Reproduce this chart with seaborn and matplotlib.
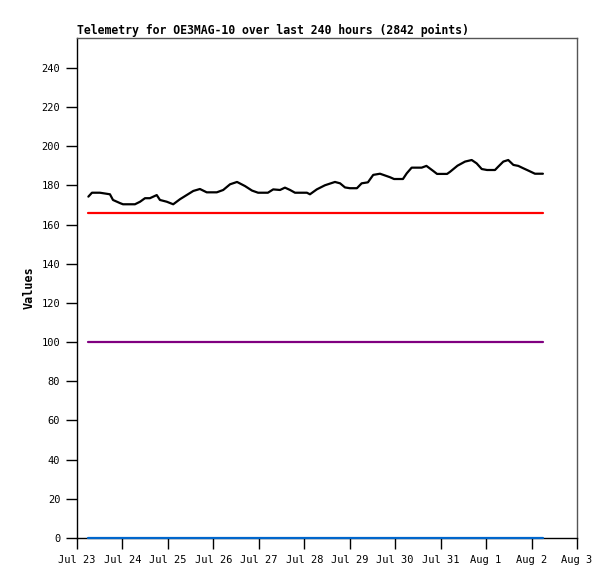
import pandas as pd
import matplotlib
matplotlib.use('Agg')
import matplotlib.pyplot as plt
import matplotlib.dates as mdates
import seaborn as sns

# black series: hours since Jul 23 00:00 and values
hours = [6, 7.9, 12.1, 17.4, 19, 22.7, 24.3, 30.6, 33.3, 35.9, 38.5, 42.1, 43.8,
         47.4, 50.8, 54.4, 57.9, 61.4, 64.9, 68.5, 73.8, 77.2, 80.8, 84.5, 88.7,
         92.4, 95.6, 100.8, 103.6, 107.2, 109.8, 112.5, 115.1, 121.4, 123, 126.6,
         130.9, 136.2, 138.9, 141.5, 144.1, 147.8, 150.3, 153.6, 156.4, 160, 165.3,
         167.4, 172.1, 174.1, 176.7, 182, 184.5, 188.1, 190.1, 195.4, 197, 200.9,
         204.9, 208.4, 211, 213.7, 216.5, 220.7, 222.4, 225.1, 227.7, 230.4, 233,
         235.6, 238.3, 241.8, 246]
values = [174.3, 176.3, 176.3, 175.5, 172.6, 171, 170.4, 170.4, 171.7, 173.5, 173.5,
          175.1, 172.6, 171.7, 170.4, 173, 175.1, 177.2, 178.2, 176.5, 176.5, 177.7,
          180.6, 181.8, 179.7, 177.4, 176.3, 176.3, 178, 177.7, 178.9, 177.7, 176.3,
          176.3, 175.5, 178, 180.1, 181.8, 181.1, 179, 178.6, 178.6, 181.1, 181.6,
          185.4, 186, 184.2, 183.3, 183.3, 186.2, 189.1, 189.1, 190, 187.4, 185.9,
          185.9, 187, 190.1, 192.2, 193, 191.3, 188.4, 187.9, 187.9, 189.6, 192.2,
          193, 190.5, 190, 188.8, 187.6, 186, 186]

level_hours = [6, 246]
red_level = [166, 166]
purple_level = [100, 100]
blue_level = [0, 0]

day_ticks = pd.date_range('2024-07-23', '2024-08-03', freq='D')

base = pd.Timestamp('2024-07-23')
t = base + pd.to_timedelta(hours, unit='h')
tl = base + pd.to_timedelta(level_hours, unit='h')

sns.set_style('white')
plt.rcParams['font.family'] = ['DejaVu Sans Mono', 'DejaVu Sans']

fig = plt.figure(figsize=(6.15, 5.79), dpi=100)
ax = fig.add_axes([77 / 615, 1 - 538 / 579, 500 / 615, 500 / 579])

for lvl, col in [(blue_level, '#0066cc'), (purple_level, '#800080'), (red_level, '#ff0000')]:
    sns.lineplot(x=tl, y=lvl, color=col, linewidth=1.6, ax=ax, zorder=3, clip_on=False)
sns.lineplot(x=t, y=values, color='black', linewidth=1.6, ax=ax, zorder=3)

ax.set_xlim(day_ticks[0], day_ticks[-1])
ax.set_ylim(0, 255.3)
ax.set_yticks(range(0, 241, 20))
ax.set_xticks(day_ticks)
ax.xaxis.set_major_formatter(mdates.DateFormatter('%b %-d'))

ax.tick_params(axis='both', direction='out', length=8, width=1, color='black',
               labelcolor='black', labelsize=7.5, pad=4, left=True, bottom=True)

for side in ['left', 'bottom']:
    ax.spines[side].set_color('black')
    ax.spines[side].set_linewidth(1)
for side in ['top', 'right']:
    ax.spines[side].set_color('#555555')
    ax.spines[side].set_linewidth(1)

ax.set_xlabel('')
ax.set_ylabel('Values', fontsize=8.5, fontweight='bold', color='black', labelpad=4)
ax.set_title('Telemetry for OE3MAG-10 over last 240 hours (2842 points)',
             loc='left', fontsize=8.3, fontweight='bold', color='black', pad=3)

fig.savefig('out.png', dpi=100)
